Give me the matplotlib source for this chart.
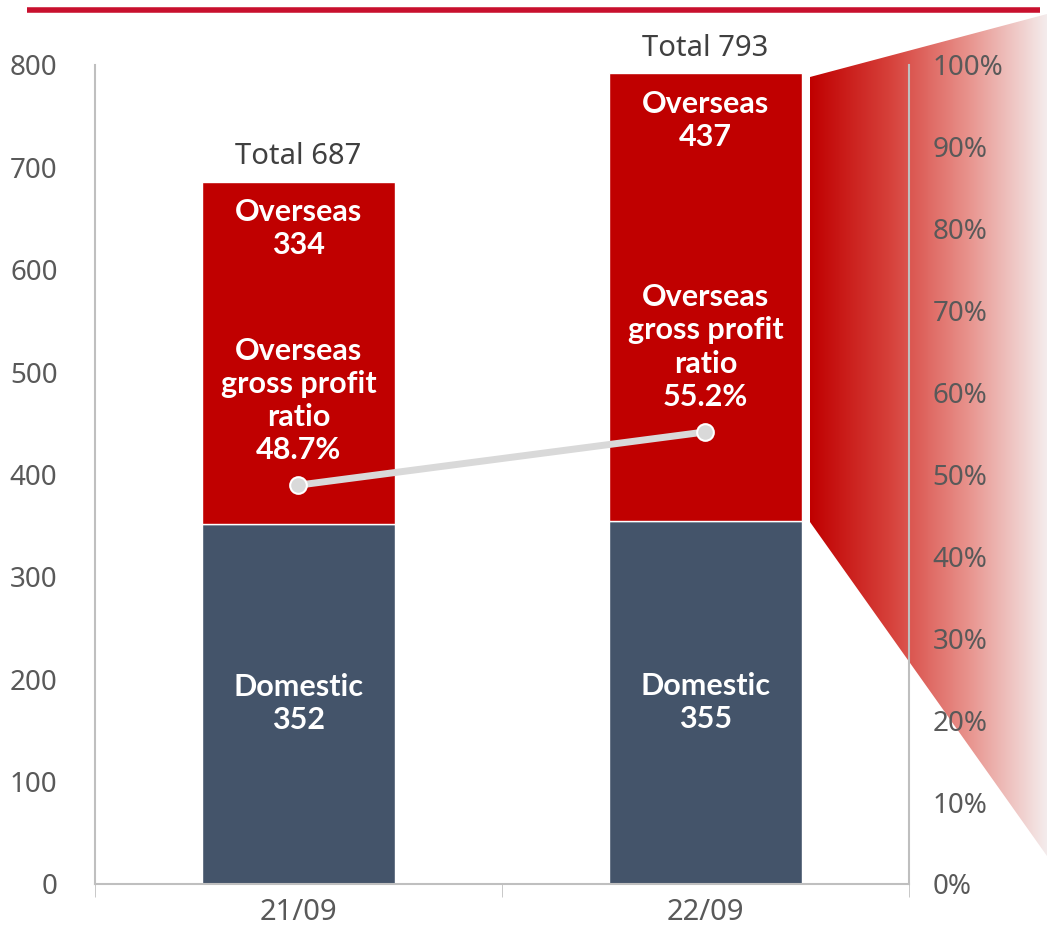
import numpy as np
import matplotlib.pyplot as plt
from matplotlib.patches import Polygon
from matplotlib.colors import LinearSegmentedColormap

categories = ["21/09", "22/09"]
domestic = [352, 355]
overseas = [334, 437]
totals = [687, 793]
overseas_ratio = [48.7, 55.2]

W, H = 1047, 927
plt.rcParams["font.family"] = ["Noto Sans", "DejaVu Sans"]

fig = plt.figure(figsize=(W / 100, H / 100), dpi=100)

# decorative gradient wedge behind the right axis
bg = fig.add_axes([0, 0, 1, 1], zorder=0)
bg.set_xlim(0, W)
bg.set_ylim(H, 0)
bg.axis("off")
cmap = LinearSegmentedColormap.from_list("wedge", ["#C00000", "#D6403A", "#E8928C", "#F4ECEC"])
grad = np.linspace(0, 1, 256).reshape(1, -1)
img = bg.imshow(grad, cmap=cmap, extent=[810, W, H, 0], aspect="auto")
wedge = Polygon([(810, 77), (W, 14), (W, 856), (810, 522)], closed=True,
                transform=bg.transData, facecolor="none", edgecolor="none")
bg.add_patch(wedge)
img.set_clip_path(wedge)

# red rule at the top
bg.plot([27, 1040], [10, 10], color="#C8102E", lw=4, solid_capstyle="butt")

ax = fig.add_axes([95 / W, (H - 884) / H, 814 / W, 819 / H], zorder=1)
ax.set_facecolor("none")
x = np.arange(len(categories))
bw = 0.475
ax.bar(x, domestic, width=bw, color="#44546A", edgecolor="white", linewidth=1)
ax.bar(x, overseas, width=bw, bottom=domestic, color="#C00000", edgecolor="white", linewidth=1)

ax.set_xlim(-0.5, 1.5)
ax.set_ylim(0, 800)
ax.set_yticks(range(0, 801, 100))
ax.set_xticks(x)
ax.set_xticklabels(categories)
ax.set_xticks([-0.5, 0.5, 1.5], minor=True)
ax.tick_params(axis="x", which="major", length=0, pad=10, labelsize=21, colors="#595959")
ax.tick_params(axis="x", which="minor", length=9, color="#BFBFBF")
ax.tick_params(axis="y", length=0, pad=27, labelsize=20, colors="#595959")
for side in ["top", "right"]:
    ax.spines[side].set_visible(False)
for side in ["left", "bottom"]:
    ax.spines[side].set_color("#BFBFBF")
    ax.spines[side].set_linewidth(1.5)

lab = dict(ha="center", color="white", fontsize=22, fontweight="bold", linespacing=1.22,
           family=["Lato", "DejaVu Sans"])
for i in range(len(categories)):
    ax.text(x[i], domestic[i] / 2, f"Domestic\n{domestic[i]}", va="center", **lab)
    top = domestic[i] + overseas[i]
    ax.text(x[i], top - 46, f"Overseas\n{overseas[i]}", va="center", **lab)
    ax.text(x[i], totals[i] + 9, f"Total {totals[i]}", ha="center", va="bottom",
            color="#404040", fontsize=21)

ax2 = ax.twinx()
ax2.set_ylim(0, 100)
ax2.set_yticks(range(0, 101, 10))
ax2.set_yticklabels([f"{v}%" for v in range(0, 101, 10)])
ax2.tick_params(axis="y", length=0, pad=17, labelsize=20, colors="#595959")
for side in ["top", "left", "bottom"]:
    ax2.spines[side].set_visible(False)
ax2.spines["right"].set_color("#BFBFBF")
ax2.spines["right"].set_linewidth(1.5)
ax2.plot(x, overseas_ratio, color="#D9D9D9", lw=5, marker="o", markersize=12,
         markerfacecolor="#D9D9D9", markeredgecolor="white", markeredgewidth=1.5)
for i in range(len(categories)):
    ax2.text(x[i], overseas_ratio[i] + 2.6, f"Overseas\ngross profit\nratio\n{overseas_ratio[i]}%",
             va="bottom", **lab)

fig.savefig("out.png", dpi=100)
